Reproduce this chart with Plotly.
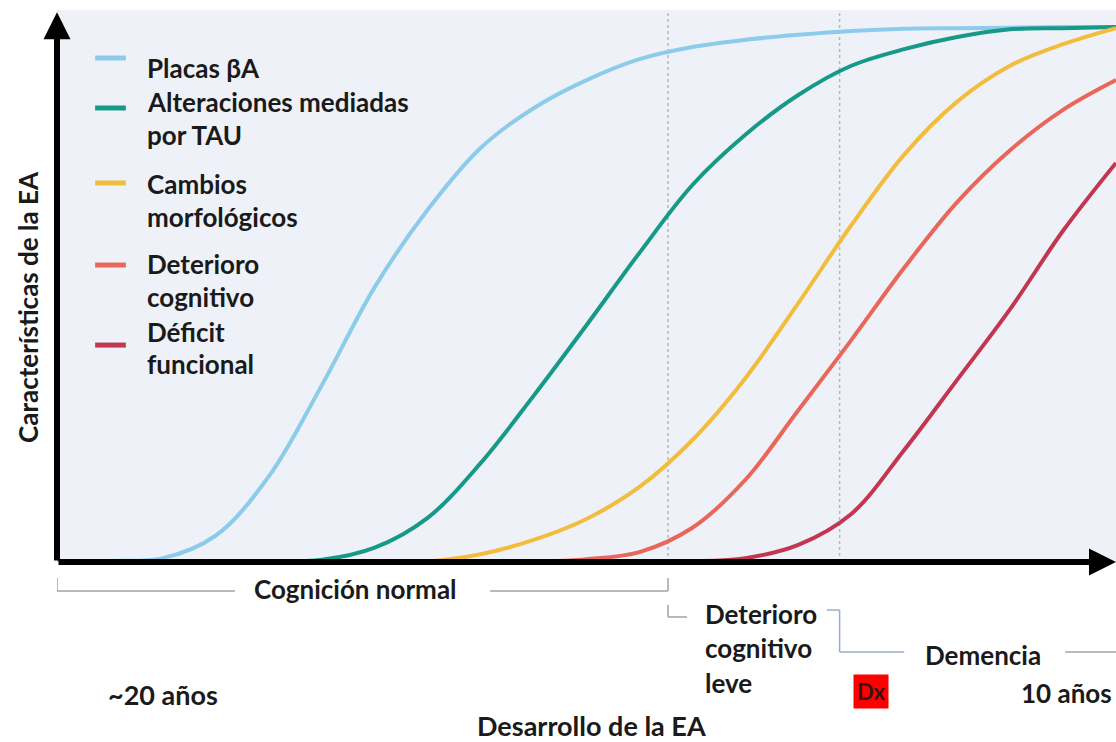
import plotly.graph_objects as go

# ---------------- data (time 0-100, level 0-100) ----------------
series_names = ["Placas βA", "Alteraciones mediadas por TAU", "Cambios morfológicos",
                "Deterioro cognitivo", "Déficit funcional"]
legend_lines = [["Placas βA"], ["Alteraciones mediadas", "por TAU"], ["Cambios", "morfológicos"],
                ["Deterioro", "cognitivo"], ["Déficit", "funcional"]]
series_colors = ["#8DCBEA", "#17998A", "#F2BD3D", "#E8675A", "#C2364F"]

placas_x = [0, 5, 10, 15, 20, 25, 30, 35, 40, 45, 50, 55, 60, 65, 70, 75, 80, 85, 90, 95, 100]
placas_y = [0, 0.2, 0.7, 4.8, 15.5, 32.0, 49.8, 63.8, 75.0, 82.2, 87.3, 91.1, 93.3, 94.6, 95.5,
            96.2, 96.6, 96.7, 96.8, 96.9, 96.9]

tau_x = [15, 20, 25, 30, 35, 40, 45, 50, 55, 60, 65, 70, 75, 80, 85, 90, 95, 100]
tau_y = [0, 0.1, 0.4, 2.6, 8.0, 17.9, 30.1, 42.9, 56.0, 68.3, 77.4, 84.6, 89.9, 92.9, 95.1, 96.5, 96.7, 96.9]

morf_x = [30, 35, 40, 45, 50, 55, 60, 65, 70, 75, 80, 85, 90, 95, 100]
morf_y = [0, 0.1, 1.4, 4.0, 7.8, 13.6, 22.1, 33.3, 46.9, 61.0, 73.8, 83.4, 89.9, 93.8, 96.7]

cogn_x = [45, 50, 55, 60, 65, 70, 75, 80, 85, 90, 95, 100]
cogn_y = [0, 0.5, 1.8, 6.2, 14.9, 27.5, 40.2, 53.3, 65.2, 74.6, 81.9, 87.3]

func_x = [55, 60, 65, 70, 75, 80, 85, 90, 95, 100]
func_y = [0, 0.1, 0.7, 3.1, 8.7, 20.3, 33.0, 45.8, 60.0, 72.3]

stage_names = ["Cognición normal", "Deterioro<br>cognitivo<br>leve", "Demencia"]
stage_bounds = [0, 57.7, 73.9, 100]
time_labels = ["~20 años", "Dx", "10 años"]

x_title = "Desarrollo de la EA"
y_title = "Características de la EA"

# ---------------- figure ----------------
FONT = "Lato"
TXT = "#1a1a1a"
fig = go.Figure()

xs = [placas_x, tau_x, morf_x, cogn_x, func_x]
ys = [placas_y, tau_y, morf_y, cogn_y, func_y]
for name, col, x, y in zip(series_names, series_colors, xs, ys):
    fig.add_trace(go.Scatter(x=x, y=y, name=name, mode="lines",
                             line=dict(color=col, width=4, shape="spline", smoothing=1.0),
                             showlegend=False, hoverinfo="name"))

shapes = []
annotations = []

# dotted stage boundaries inside plot
for b in stage_bounds[1:3]:
    shapes.append(dict(type="line", xref="x", yref="paper", x0=b, x1=b, y0=0, y1=1,
                       line=dict(color="#b4b8be", width=1.5, dash="dot"), layer="below"))

# legend keys + text
key_y = [0.913, 0.8225, 0.6866, 0.538, 0.393]
text_rows = [[0.895], [0.833, 0.7736], [0.6848, 0.625], [0.5399, 0.480], [0.4167, 0.3587]]
for col, ky, lines, rows in zip(series_colors, key_y, legend_lines, text_rows):
    shapes.append(dict(type="line", xref="paper", yref="paper", x0=0.036, x1=0.065, y0=ky, y1=ky,
                       line=dict(color=col, width=5)))
    for t, ry in zip(lines, rows):
        annotations.append(dict(xref="paper", yref="paper", x=0.0831, y=ry, text="<b>%s</b>" % t,
                                showarrow=False, xanchor="left", yanchor="middle",
                                font=dict(family=FONT, size=26, color=TXT)))

# axis arrows
annotations.append(dict(xref="x", yref="y", axref="x", ayref="y", x=100, y=0, ax=0, ay=0,
                        text="", showarrow=True, arrowhead=2, arrowsize=0.9, arrowwidth=6,
                        arrowcolor="black", standoff=0))
annotations.append(dict(xref="x", yref="y", axref="x", ayref="y", x=0, y=99.6, ax=0, ay=0,
                        text="", showarrow=True, arrowhead=2, arrowsize=0.9, arrowwidth=6,
                        arrowcolor="black", standoff=0))

# stage brackets
GREY = "#a3a3a3"
BLUEG = "#9aaccc"
b0, b1, b2, b3 = stage_bounds
yl = -0.0525
shapes += [
    dict(type="line", xref="x", yref="paper", x0=b0, x1=b0, y0=-0.029, y1=yl, line=dict(color=GREY, width=1.5)),
    dict(type="line", xref="x", yref="paper", x0=b0, x1=16.8, y0=yl, y1=yl, line=dict(color=GREY, width=1.5)),
    dict(type="line", xref="x", yref="paper", x0=40.9, x1=b1, y0=yl, y1=yl, line=dict(color=GREY, width=1.5)),
    dict(type="line", xref="x", yref="paper", x0=b1, x1=b1, y0=-0.029, y1=yl, line=dict(color=GREY, width=1.5)),
    dict(type="line", xref="x", yref="paper", x0=b1, x1=b1, y0=-0.078, y1=-0.0996, line=dict(color=GREY, width=1.5)),
    dict(type="line", xref="x", yref="paper", x0=b1, x1=59.5, y0=-0.0996, y1=-0.0996, line=dict(color=GREY, width=1.5)),
    dict(type="line", xref="x", yref="paper", x0=72.7, x1=b2, y0=-0.087, y1=-0.087, line=dict(color=BLUEG, width=1.5)),
    dict(type="line", xref="x", yref="paper", x0=b2, x1=b2, y0=-0.087, y1=-0.163, line=dict(color=BLUEG, width=1.5)),
    dict(type="line", xref="x", yref="paper", x0=b2, x1=80.0, y0=-0.163, y1=-0.163, line=dict(color=BLUEG, width=1.5)),
    dict(type="line", xref="x", yref="paper", x0=95.2, x1=b3, y0=-0.163, y1=-0.163, line=dict(color=GREY, width=1.5)),
]

annotations.append(dict(xref="x", yref="paper", x=(b0 + b1) / 2 - 0.7, y=-0.0490, text="<b>%s</b>" % stage_names[0],
                        showarrow=False, xanchor="center", yanchor="middle",
                        font=dict(family=FONT, size=26, color=TXT)))
for i, t in enumerate(stage_names[1].split("<br>")):
    annotations.append(dict(xref="x", yref="paper", x=61.0, y=[-0.0942, -0.1558, -0.2192][i],
                            text="<b>%s</b>" % t, showarrow=False, xanchor="left", yanchor="middle",
                            font=dict(family=FONT, size=26, color=TXT)))
annotations.append(dict(xref="x", yref="paper", x=87.4, y=-0.1685, text="<b>%s</b>" % stage_names[2],
                        showarrow=False, xanchor="center", yanchor="middle",
                        font=dict(family=FONT, size=26, color=TXT)))

# time labels
annotations.append(dict(xref="x", yref="paper", x=10.0, y=-0.2400, text="<b>%s</b>" % time_labels[0],
                        showarrow=False, xanchor="center", yanchor="middle",
                        font=dict(family=FONT, size=27, color=TXT)))
annotations.append(dict(xref="x", yref="paper", x=76.9, y=-0.2355, text="<b>%s</b>" % time_labels[1],
                        showarrow=False, xanchor="center", yanchor="middle", bgcolor="#FF0000",
                        borderpad=3, font=dict(family=FONT, size=22, color="#3a1010")))
annotations.append(dict(xref="x", yref="paper", x=90.8, y=-0.2380, text="<b>%s</b>" % time_labels[2],
                        showarrow=False, xanchor="left", yanchor="middle",
                        font=dict(family=FONT, size=26, color=TXT)))

# axis titles
annotations.append(dict(xref="x", yref="paper", x=50.5, y=-0.2953, text="<b>%s</b>" % x_title,
                        showarrow=False, xanchor="center", yanchor="middle",
                        font=dict(family=FONT, size=27, color=TXT)))
annotations.append(dict(xref="paper", yref="paper", x=-0.0274, y=0.462, text="<b>%s</b>" % y_title,
                        showarrow=False, xanchor="center", yanchor="middle", textangle=-90,
                        font=dict(family=FONT, size=26, color=TXT)))

fig.update_layout(
    width=1116, height=742,
    margin=dict(l=57, r=0, t=10, b=180),
    paper_bgcolor="white", plot_bgcolor="#EEF2F8",
    xaxis=dict(range=[0, 100], visible=False, fixedrange=True),
    yaxis=dict(range=[0, 100], visible=False, fixedrange=True),
    shapes=shapes, annotations=annotations,
    showlegend=False,
)

fig.write_html("out.html", config={"displayModeBar": False},
               post_script="document.body.style.margin='0';document.body.style.overflow='hidden';")
